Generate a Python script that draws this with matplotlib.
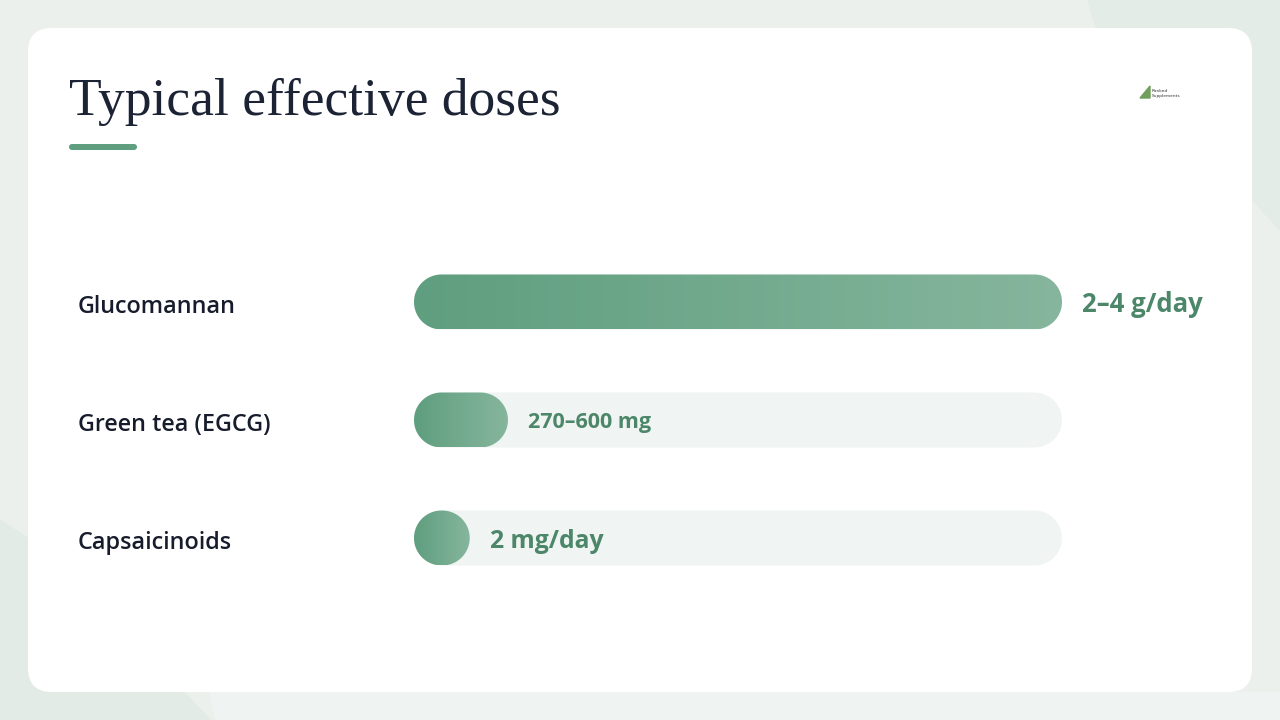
import numpy as np
import matplotlib.pyplot as plt
from matplotlib.patches import FancyBboxPatch, Polygon
from matplotlib.colors import LinearSegmentedColormap
from matplotlib.transforms import blended_transform_factory

# data
supplements = ["Glucomannan", "Green tea (EGCG)", "Capsaicinoids"]
dose_labels = ["2\u20134 g/day", "270\u2013600 mg", "2 mg/day"]
fill_pct = [100, 14.5, 8.6]          # relative bar length (% of track)
label_size = [18.5, 15.5, 17.8]

title = "Typical effective doses"

green_dark = "#5f9e7f"
green_light = "#86b69d"
value_col = "#4c876a"
track_col = "#f0f4f2"
ink = "#161c2b"

W, H = 1280, 720
fig = plt.figure(figsize=(12.8, 7.2), dpi=100)

# ----- background (pixel coords) -----
bg = fig.add_axes([0, 0, 1, 1])
bg.set_xlim(0, W)
bg.set_ylim(H, 0)
bg.axis("off")
bg.add_patch(Polygon([(0, 0), (W, 0), (W, H), (0, H)], color="#ebf0ed", zorder=0))
bg.add_patch(Polygon([(1088, 0), (W, 0), (W, 230), (1180, 120), (1100, 40)],
                     color="#e3ece7", zorder=0.5))
bg.add_patch(Polygon([(0, 520), (60, 560), (210, 720), (0, 720)],
                     color="#e3ebe6", zorder=0.5))
bg.add_patch(Polygon([(210, 692), (1280, 692), (1280, 720), (215, 720)],
                     color="#eff3f1", zorder=0.5))
card = FancyBboxPatch((28, 28), 1224, 664, boxstyle="round,pad=0,rounding_size=24",
                      fc="white", ec="none", zorder=1)
bg.add_patch(card)

bg.text(69, 115, title, fontsize=38.5, family="Liberation Serif", color="#1b2334",
        ha="left", va="baseline", zorder=2)
bg.add_patch(FancyBboxPatch((69, 144), 68, 6, boxstyle="round,pad=0,rounding_size=3",
                            fc=green_dark, ec="none", zorder=2))

# tiny logo
bg.add_patch(Polygon([(1140, 98), (1150, 86), (1150, 98)], color="#6f9f5a", zorder=2))
bg.text(1152, 91, "Ranked", fontsize=3.2, color="#333333", va="center", zorder=2)
bg.text(1152, 96, "Supplements", fontsize=3.2, color="#333333", va="center", zorder=2)

# ----- bars axes -----
x0, x1 = 414, 1062
row_px = [302, 420, 537]
bar_h_px = 55
step_px = row_px[1] - row_px[0]
ytop_px, ybot_px = 240, 600
ax = fig.add_axes([x0 / W, 1 - ybot_px / H, (x1 - x0) / W, (ybot_px - ytop_px) / H])
ax.set_xlim(0, 100)
ylo = (ytop_px - row_px[0]) / step_px
yhi = (ybot_px - row_px[0]) / step_px
ax.set_ylim(yhi, ylo)
ax.axis("off")

xu_per_px = 100 / (x1 - x0)
yu_per_px = 1 / step_px
ry = bar_h_px / 2 * yu_per_px
rx = bar_h_px / 2 * xu_per_px


def pill(xa, xb, yc, **kw):
    # stadium shape with semicircular ends
    t2 = np.linspace(-np.pi / 2, np.pi / 2, 40)
    right = np.column_stack([xb - rx + rx * np.cos(t2), yc + ry * np.sin(t2)])
    t = np.linspace(np.pi / 2, 3 * np.pi / 2, 40)
    left = np.column_stack([xa + rx + rx * np.cos(t), yc + ry * np.sin(t)])
    return Polygon(np.vstack([right, left]), closed=True, **kw)


cmap = LinearSegmentedColormap.from_list("g", [green_dark, green_light])
grad = np.linspace(0, 1, 256).reshape(1, -1)
lab_tr = blended_transform_factory(fig.transFigure, ax.transData)

for i, (name, lab, pct, fs) in enumerate(zip(supplements, dose_labels, fill_pct, label_size)):
    ax.add_patch(pill(0, 100, i, fc=track_col, ec="none", zorder=1))
    bar = pill(0, pct, i, fc="none", ec="none", zorder=2)
    ax.add_patch(bar)
    im = ax.imshow(grad, cmap=cmap, aspect="auto", zorder=2,
                   extent=(0, pct, i + ry, i - ry))
    im.set_clip_path(bar)

    ax.text(78 / W, i + 0.02, name, transform=lab_tr, fontsize=16.8, family="Open Sans",
            weight="semibold", color=ink, ha="left", va="center_baseline")
    ax.annotate(lab, xy=(pct, i), xytext=(20, 0), textcoords="offset pixels",
                fontsize=fs, family="Open Sans", weight="bold", color=value_col,
                ha="left", va="center_baseline", annotation_clip=False, zorder=3)

fig.savefig("out.png", dpi=100)
